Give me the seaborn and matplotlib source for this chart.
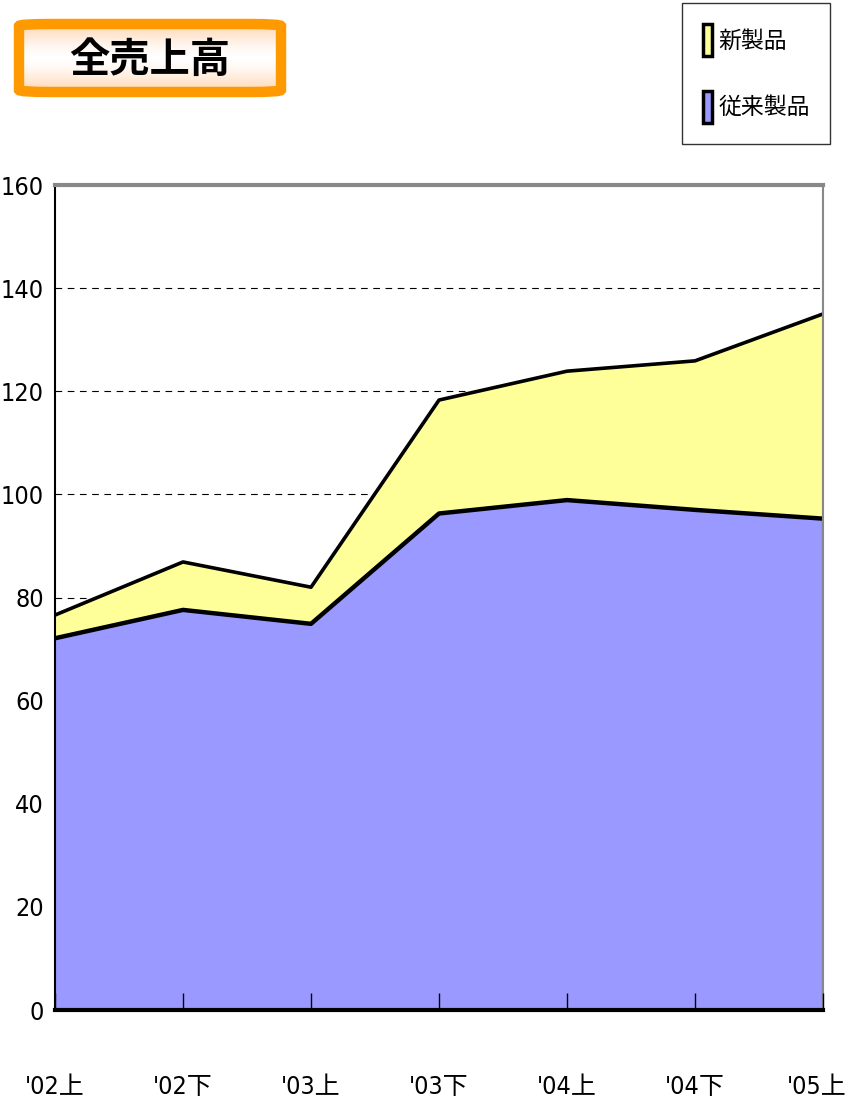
import matplotlib
matplotlib.use("Agg")
import numpy as np
import matplotlib.pyplot as plt
import matplotlib.transforms as mtransforms
import seaborn as sns
import pandas as pd
from matplotlib.patches import Patch, FancyBboxPatch

# データ
periods = ["'02上", "'02下", "'03上", "'03下", "'04上", "'04下", "'05上"]
existing = [72.1, 77.6, 74.9, 96.3, 98.9, 97.0, 95.3]   # 従来製品
new_prod = [4.5, 9.3, 7.1, 22.0, 25.0, 28.9, 39.7]      # 新製品
y_ticks = [0, 20, 40, 60, 80, 100, 120, 140, 160]

df = pd.DataFrame({'x': range(len(periods)), 'existing': existing, 'new': new_prod})
df['total'] = df['existing'] + df['new']

sns.set_style('white')
plt.rcParams['font.family'] = ['DejaVu Sans', 'Noto Sans CJK JP']
plt.rcParams['font.stretch'] = 'condensed'
plt.rcParams['text.color'] = 'black'
plt.rcParams['xtick.color'] = 'black'
plt.rcParams['ytick.color'] = 'black'

fig = plt.figure(figsize=(8.49, 11.12), dpi=100)
ax = fig.add_axes([0.0648, 0.0917, 0.9046, 0.7419])

blue = '#9999FF'
yellow = '#FFFF99'

# 目盛り線（背面）
for v in [20, 40, 60, 80, 100, 120, 140]:
    ax.axhline(v, color='black', lw=0.8, ls=(0, (6, 5)), zorder=0)

ax.fill_between(df['x'], 0, df['existing'], color=blue, lw=0, zorder=1)
ax.fill_between(df['x'], df['existing'], df['total'], color=yellow, lw=0, zorder=1)
sns.lineplot(data=df, x='x', y='total', color='black', lw=2.6, ax=ax, zorder=3)
sns.lineplot(data=df, x='x', y='existing', color='black', lw=3.2, ax=ax, zorder=3)
ax.vlines(df['x'].iloc[-1], 0, df['total'].iloc[-1], color='black', lw=2.2, zorder=3)

ax.set_xlim(0, len(periods) - 1)
ax.set_ylim(0, 160)
ax.set_xlabel('')
ax.set_ylabel('')
ax.set_xticks(df['x'])
ax.set_xticklabels(periods, fontsize=18, color='black')
ax.set_yticks(y_ticks)
ax.set_yticklabels([str(v) for v in y_ticks], fontsize=18, color='black')
ax.tick_params(axis='x', bottom=True, direction='in', length=12, width=1, pad=47,
               colors='black')
ax.tick_params(axis='y', left=False, length=0, pad=8, colors='black')
ax.xaxis.set_zorder(5)
# 右端のラベルが切れないよう少し左へ
last = ax.get_xticklabels()[-1]
last.set_transform(last.get_transform() + mtransforms.ScaledTranslation(-6 / 100, 0, fig.dpi_scale_trans))

for side in ['top', 'right']:
    ax.spines[side].set_color('#888888')
ax.spines['top'].set_linewidth(3)
ax.spines['right'].set_linewidth(1.5)
ax.spines['left'].set_color('black')
ax.spines['left'].set_linewidth(1.5)
ax.spines['bottom'].set_color('black')
ax.spines['bottom'].set_linewidth(3)
for s in ax.spines.values():
    s.set_zorder(4)

# タイトルボックス（グラデーション）
bx, by, bw, bh = 19 / 849, 1 - 92 / 1112, 262 / 849, 68 / 1112
tax = fig.add_axes([bx, by, bw, bh])
tax.set_axis_off()
grad = np.abs(np.linspace(-1, 1, 64))[:, None] ** 1.5
tax.imshow(grad, aspect='auto', cmap=matplotlib.colors.LinearSegmentedColormap.from_list(
    'peach', ['#FFFFFF', '#FFD5B0']), extent=(0, 1, 0, 1))
box = FancyBboxPatch((0, 0), 1, 1, boxstyle='round,pad=0,rounding_size=0.12',
                     transform=tax.transAxes, fc='none', ec='#FF9900', lw=7.5,
                     mutation_aspect=bh * 1112 / (bw * 849))
tax.add_patch(box)
tax.images[0].set_clip_path(box)
box.set_clip_on(False)
tax.text(0.5, 0.47, '全売上高', fontsize=29, fontweight='bold', color='black',
         family=['Noto Sans CJK JP'], ha='center', va='center', transform=tax.transAxes)

# 凡例
handles = [Patch(facecolor=yellow, edgecolor='black', lw=2.5, label='新製品'),
           Patch(facecolor=blue, edgecolor='black', lw=2.5, label='従来製品')]
leg = fig.legend(handles=handles, loc='upper right', bbox_to_anchor=(0.978, 0.997),
                 prop={'family': ['Noto Sans CJK JP'], 'size': 16.5},
                 frameon=True, fancybox=False, edgecolor='black',
                 handlelength=0.42, handleheight=1.8, handletextpad=0.25,
                 labelspacing=1.5, borderpad=0.9, borderaxespad=0)
leg.get_frame().set_linewidth(1)
for t in leg.get_texts():
    t.set_color('black')

fig.savefig('out.png', dpi=100)
